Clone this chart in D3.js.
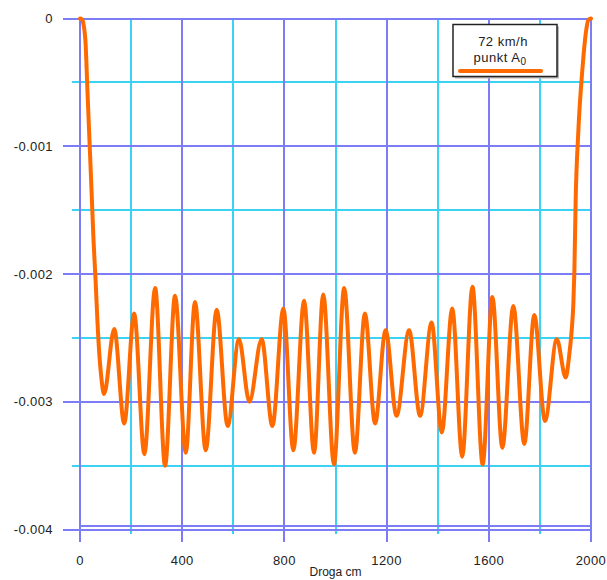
<!DOCTYPE html>
<html><head><meta charset="utf-8">
<script src="https://cdn.jsdelivr.net/npm/d3@7"></script>
<style>body{margin:0;background:#fff} svg{display:block}</style>
</head><body><svg id="c" width="607" height="580"></svg>
<script>
// ---- data ----
const drogaCm = [0, 2, 8, 14, 22, 29, 37, 45, 53, 61, 68, 76, 84, 94,
  134, 173, 212, 252, 294, 333, 372, 414, 450, 492, 535, 578, 622, 663, 711, 753,
  796, 835, 877, 916, 952, 994, 1034, 1076, 1115, 1155, 1196, 1239, 1288, 1331,
  1376, 1416, 1457, 1496, 1536, 1576, 1614, 1653, 1696, 1739, 1778, 1820, 1866,
  1901, 1914, 1924, 1931, 1935, 1940, 1950, 1967, 1980, 1990, 2000];
const ugiecie = [0, 0, -0.000008, -0.00005, -0.0002, -0.00056, -0.00095, -0.00134, -0.00174, -0.00205, -0.00236, -0.00264, -0.00282, -0.00294,
  -0.00243, -0.00317, -0.00231, -0.00341, -0.00211, -0.0035, -0.00217, -0.0034, -0.00222, -0.00338, -0.00228, -0.00319, -0.00251, -0.003, -0.00251, -0.00319,
  -0.00227, -0.00338, -0.00221, -0.0034, -0.00216, -0.00349, -0.00211, -0.0034, -0.00231, -0.00317, -0.00244, -0.00311, -0.00244, -0.00311,
  -0.00238, -0.00324, -0.00227, -0.00343, -0.0021, -0.00349, -0.00218, -0.00336, -0.00225, -0.00333, -0.00232, -0.00315, -0.00251,
  -0.00281, -0.00265, -0.00245, -0.00223, -0.00197, -0.00142, -0.0009, -0.00038, -0.00011, -0.00001, 0];

const xMajorTicks = [0, 400, 800, 1200, 1600, 2000];
const xMinorTicks = [200, 600, 1000, 1400, 1800];
const yMajorTicks = [0, -0.001, -0.002, -0.003, -0.004];
const yMinorTicks = [-0.0005, -0.0015, -0.0025, -0.0035];
const yTickLabels = ["0", "-0.001", "-0.002", "-0.003", "-0.004"];
const xTickLabels = ["0", "400", "800", "1200", "1600", "2000"];
const xAxisTitle = "Droga cm";
const legendTitle = "72 km/h";
const legendPoint = "punkt A";
const legendSub = "0";

// ---- layout ----
const svg = d3.select("#c");
const x = d3.scaleLinear().domain([0, 2000]).range([80, 591]);
const y = d3.scaleLinear().domain([0, -0.004]).range([18.5, 529.5]);
const BLUE = "#7c7cf6", CYAN = "#3cd2f6";
const xL = x.range()[0], xR = x.range()[1];
const yT = y.range()[0], yB = y.range()[1];

const grid = svg.append("g").attr("shape-rendering", "crispEdges");
// minor (cyan)
grid.selectAll(".hmin").data(yMinorTicks).join("line")
  .attr("x1", xL - 8).attr("x2", xR).attr("y1", d => Math.round(y(d))).attr("y2", d => Math.round(y(d)))
  .attr("stroke", CYAN).attr("stroke-width", 1.6);
grid.selectAll(".vmin").data(xMinorTicks).join("line")
  .attr("x1", d => Math.round(x(d))).attr("x2", d => Math.round(x(d))).attr("y1", yT).attr("y2", yB + 4)
  .attr("stroke", CYAN).attr("stroke-width", 1.6);
// major (blue)
grid.selectAll(".hmaj").data(yMajorTicks).join("line")
  .attr("x1", xL - 17).attr("x2", xR).attr("y1", d => Math.round(y(d))).attr("y2", d => Math.round(y(d)))
  .attr("stroke", BLUE).attr("stroke-width", 1.6);
grid.selectAll(".vmaj").data(xMajorTicks).join("line")
  .attr("x1", d => Math.round(x(d))).attr("x2", d => Math.round(x(d))).attr("y1", yT).attr("y2", yB + 12)
  .attr("stroke", BLUE).attr("stroke-width", 1.6);
// frame bottom
grid.append("line").attr("x1", xL).attr("x2", xR)
  .attr("y1", Math.round(y(-0.00397))).attr("y2", Math.round(y(-0.00397)))
  .attr("stroke", BLUE).attr("stroke-width", 1.6);

// labels
const font = "'Liberation Sans', Arial, sans-serif";
svg.selectAll(".yl").data(yMajorTicks).join("text")
  .attr("x", 53).attr("y", d => y(d)).attr("dy", "0.36em")
  .attr("text-anchor", "end").attr("font-family", font).attr("font-size", 13)
  .attr("fill", "#222").attr("letter-spacing", "0.4")
  .text((d, i) => yTickLabels[i]);
svg.selectAll(".xl").data(xMajorTicks).join("text")
  .attr("x", d => x(d)).attr("y", 565)
  .attr("text-anchor", "middle").attr("font-family", font).attr("font-size", 13)
  .attr("fill", "#222").attr("letter-spacing", "0.4")
  .text((d, i) => xTickLabels[i]);
svg.append("text").attr("x", (xL + xR) / 2).attr("y", 576)
  .attr("text-anchor", "middle").attr("font-family", font).attr("font-size", 12)
  .attr("fill", "#222").text(xAxisTitle);

// curve
const line = d3.line().x(d => x(d[0])).y(d => y(d[1])).curve(d3.curveMonotoneX);
svg.append("path").datum(drogaCm.map((d, i) => [d, ugiecie[i]]))
  .attr("d", line).attr("fill", "none").attr("stroke", "#ff6a00")
  .attr("stroke-width", 4).attr("stroke-linejoin", "round").attr("stroke-linecap", "round");

// legend
const lg = svg.append("g");
lg.append("rect").attr("x", 455).attr("y", 26.5).attr("width", 104).attr("height", 52).attr("fill", "#b8b8b8");
lg.append("rect").attr("x", 453).attr("y", 24.5).attr("width", 104).attr("height", 52)
  .attr("fill", "#fff").attr("stroke", "#222").attr("stroke-width", 1.5);
lg.append("text").attr("x", 503).attr("y", 46).attr("text-anchor", "middle")
  .attr("font-family", font).attr("font-size", 13).attr("fill", "#222").attr("letter-spacing", "0.5")
  .text(legendTitle);
const t2 = lg.append("text").attr("x", 500).attr("y", 62).attr("text-anchor", "middle")
  .attr("font-family", font).attr("font-size", 13).attr("fill", "#222").attr("letter-spacing", "0.5");
t2.append("tspan").text(legendPoint);
t2.append("tspan").attr("dy", 3).attr("font-size", 10).text(legendSub);
lg.append("line").attr("x1", 460).attr("x2", 541).attr("y1", 71).attr("y2", 71)
  .attr("stroke", "#ff6a00").attr("stroke-width", 4).attr("stroke-linecap", "round");
</script></body></html>
